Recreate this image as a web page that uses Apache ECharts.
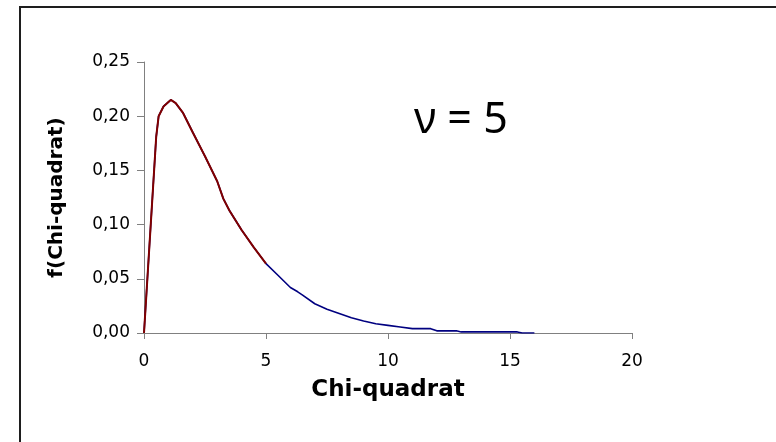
<!DOCTYPE html>
<html>
<head>
<meta charset="utf-8">
<script src="https://cdn.jsdelivr.net/npm/echarts@6/dist/echarts.min.js"></script>
<style>
  html, body { margin: 0; padding: 0; background: #ffffff; }
  #chart { width: 776px; height: 442px; }
</style>
</head>
<body>
<div id="chart"></div>
<script>
// Chi-quadrat values and the density read at each of them
const chiValues = [0, 0.5, 0.6, 0.8, 1.0, 1.1, 1.3, 1.6, 2.0, 2.5, 3.0, 3.25, 3.5, 4.0, 4.5, 5.0,
  5.5, 6.0, 6.3, 6.5, 7.0, 7.5, 8.0, 8.5, 9.0, 9.5, 10.0, 10.5, 11.0, 11.75, 12.0, 12.8, 13.0, 15.3, 15.5, 16.0];
const densityValues = [0, 0.181, 0.200, 0.209, 0.213, 0.215, 0.212, 0.203, 0.185, 0.163, 0.140, 0.124, 0.113, 0.095, 0.079, 0.064,
  0.053, 0.042, 0.038, 0.035, 0.027, 0.022, 0.018, 0.014, 0.011, 0.0085, 0.007, 0.0055, 0.004, 0.004, 0.002, 0.002, 0.001, 0.001, 0, 0];
// Upper end of the highlighted (red) part of the curve
const highlightUpTo = 5;
const xTicks = [0, 5, 10, 15, 20];
const yTicks = [0, 0.05, 0.10, 0.15, 0.20, 0.25];

const fullCurve = chiValues.map((x, i) => [x, densityValues[i]]);
const highlightCurve = fullCurve.filter(p => p[0] <= highlightUpTo);

const chart = echarts.init(document.getElementById('chart'), null, { renderer: 'canvas' });

const axisLine = { show: true, lineStyle: { color: '#808080', width: 1 } };

chart.setOption({
  animation: false,
  backgroundColor: '#ffffff',
  grid: { left: 144, right: 144, top: 62, bottom: 109 },
  xAxis: {
    type: 'value',
    min: xTicks[0],
    max: xTicks[xTicks.length - 1],
    interval: xTicks[1] - xTicks[0],
    axisLine: axisLine,
    axisTick: { show: true, inside: false, length: 6, lineStyle: { color: '#808080' } },
    splitLine: { show: false },
    axisLabel: { margin: 20, fontFamily: 'DejaVu Sans', fontSize: 17, color: '#000000' },
    name: 'Chi-quadrat',
    nameLocation: 'middle',
    nameGap: 46,
    nameTextStyle: { fontFamily: 'DejaVu Sans', fontWeight: 'bold', fontSize: 23, color: '#000000' }
  },
  yAxis: {
    type: 'value',
    min: yTicks[0],
    max: yTicks[yTicks.length - 1],
    interval: 0.05,
    axisLine: axisLine,
    axisTick: { show: true, inside: false, length: 7, lineStyle: { color: '#808080' } },
    splitLine: { show: false },
    axisLabel: {
      margin: 14,
      fontFamily: 'DejaVu Sans',
      fontSize: 17,
      color: '#000000',
      formatter: v => v.toFixed(2).replace('.', ',')
    },
    name: 'f(Chi-quadrat)',
    nameLocation: 'middle',
    nameGap: 77,
    nameTextStyle: { fontFamily: 'DejaVu Sans', fontWeight: 'bold', fontSize: 20, color: '#000000' }
  },
  series: [
    {
      type: 'line',
      data: fullCurve,
      showSymbol: false,
      smooth: false,
      lineStyle: { color: '#000080', width: 1.6 },
      z: 2
    },
    {
      type: 'line',
      data: highlightCurve,
      showSymbol: false,
      smooth: false,
      lineStyle: { color: '#800000', width: 2 },
      z: 3
    }
  ],
  graphic: [
    {
      type: 'rect',
      shape: { x: 20, y: 7, width: 820, height: 500 },
      style: { fill: 'none', stroke: '#1e1e1e', lineWidth: 2 },
      silent: true
    },
    {
      type: 'text',
      left: 414,
      top: 99,
      style: { text: '\u03BD = 5', fontFamily: 'Noto Sans', fontSize: 43, fill: '#000000' },
      silent: true
    }
  ]
});
</script>
</body>
</html>
